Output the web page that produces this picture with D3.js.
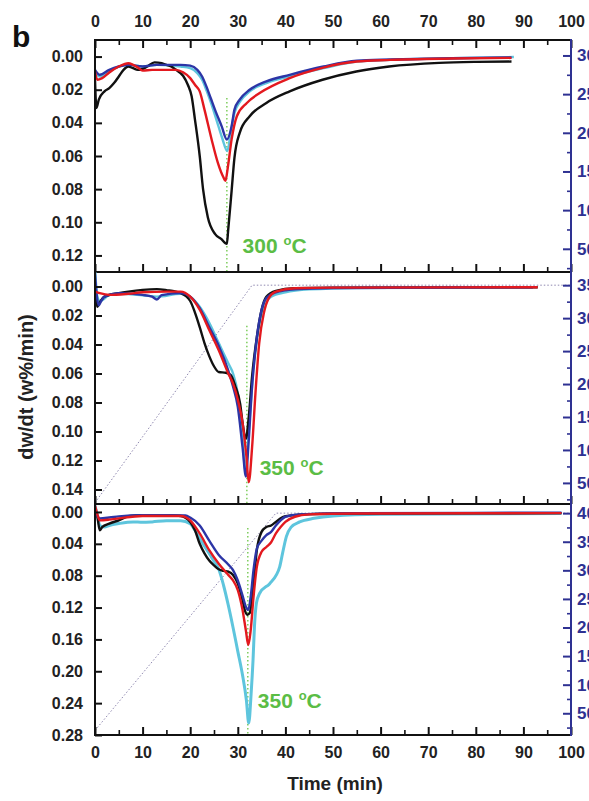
<!DOCTYPE html>
<html>
<head>
<meta charset="utf-8">
<script src="https://cdn.jsdelivr.net/npm/d3@7"></script>
<style>
body{margin:0;background:#fff}
svg{display:block}
text{font-family:"Liberation Sans",Arial,sans-serif;font-weight:bold}
</style>
</head>
<body>
<script>
// time axis
var timeTicks = [0,10,20,30,40,50,60,70,80,90,100];
var timeMinor = [5,15,25,35,45,55,65,75,85,95];

// dw/dt ticks for each panel
var p1Ticks = [0,0.02,0.04,0.06,0.08,0.10,0.12];
var p2Ticks = [0,0.02,0.04,0.06,0.08,0.10,0.12,0.14];
var p3Ticks = [0,0.04,0.08,0.12,0.16,0.20,0.24,0.28];

// temperature (right) ticks
var p1Temp = [50,100,150,200,250,300];
var p2Temp = [50,100,150,200,250,300,350];
var p3Temp = [50,100,150,200,250,300,350,400];

// panel 1 - 300 C
var p1Black = [[0,0.014],[0.3,0.031],[0.8,0.026],[2,0.021],[3,0.019],[4,0.016],[5,0.012],[6,0.008],[7,0.006],[8,0.007],[9,0.008],[10,0.0075],[11,0.006],[12.5,0.0035],[14,0.004],[15,0.005],[16,0.006],[17,0.008],[18.5,0.0116],[19.5,0.017],[20.3,0.024],[21,0.038],[22,0.060],[22.7,0.080],[23.7,0.097],[25.2,0.107],[26.5,0.110],[27.7,0.113],[28,0.104],[28.7,0.081],[29.3,0.061],[30.4,0.046],[32.5,0.036],[36,0.028],[40.9,0.021],[47.8,0.014],[54.9,0.009],[61.8,0.006],[72.3,0.0038],[80,0.0032],[87.5,0.003]];
var p1Red = [[0,0.009],[0.5,0.014],[1.5,0.013],[3,0.0096],[5,0.006],[7,0.004],[8,0.005],[9,0.0066],[10,0.0085],[12,0.008],[15,0.008],[17,0.008],[18.5,0.0095],[20,0.013],[21,0.017],[22,0.021],[23,0.032],[24.5,0.050],[25.8,0.064],[27,0.073],[27.4,0.075],[27.9,0.067],[28.7,0.050],[29.8,0.036],[31.9,0.028],[34.6,0.022],[40.9,0.013],[47.8,0.0068],[55,0.003],[62,0.002],[75,0.0012],[87.5,0.0008]];
var p1Blue = [[0,0.008],[1,0.011],[3,0.008],[5,0.006],[7,0.005],[10,0.006],[13,0.005],[18,0.005],[20,0.0055],[21.5,0.008],[22.5,0.012],[23.4,0.018],[24.3,0.025],[25.2,0.032],[26.6,0.042],[27.7,0.050],[28.7,0.042],[29.3,0.032],[30.4,0.026],[32.5,0.020],[36,0.015],[40.9,0.011],[48,0.006],[55,0.0025],[62,0.0018],[75,0.001],[87.5,0.0005]];
var p1Cyan = [[0,0.009],[1,0.012],[3,0.009],[5,0.006],[7,0.005],[10,0.006],[13,0.005],[18,0.006],[20,0.007],[21.5,0.010],[22.5,0.014],[23.5,0.021],[24.5,0.029],[25.5,0.038],[26.7,0.049],[27.8,0.057],[28.5,0.046],[29.3,0.034],[30.5,0.027],[32.5,0.021],[36,0.016],[41,0.012],[48,0.007],[55,0.003],[62,0.002],[75,0.001],[88,0.0003]];

// panel 2 - 350 C
var p2Black = [[0,0.001],[0.5,0.014],[1,0.011],[2,0.007],[5,0.0046],[7,0.0035],[10,0.0023],[13,0.0018],[15,0.0025],[18,0.0046],[20,0.010],[21,0.018],[22,0.028],[23,0.039],[24,0.048],[25,0.055],[26,0.059],[27.5,0.0595],[28.5,0.061],[29.5,0.069],[30.5,0.081],[31,0.094],[31.7,0.105],[32.3,0.090],[33,0.062],[34,0.035],[35,0.016],[36,0.007],[38,0.003],[42,0.0012],[50,0.0008],[93,0.0005]];
var p2Red = [[0,0.0035],[1,0.0046],[3,0.0058],[7,0.005],[10,0.004],[15,0.0035],[18,0.0035],[20,0.007],[22,0.016],[24,0.030],[26,0.044],[28,0.060],[29,0.067],[30,0.078],[31,0.094],[31.8,0.117],[32.3,0.135],[33,0.111],[33.7,0.074],[34.5,0.039],[35.5,0.018],[36.5,0.008],[38,0.0035],[42,0.0012],[50,0.0008],[93,0.0005]];
var p2Blue = [[0,-0.009],[0.3,0.004],[0.8,0.013],[1.3,0.010],[2,0.007],[5,0.0046],[10,0.0058],[12,0.007],[13,0.009],[14,0.006],[18,0.0046],[20,0.007],[22,0.015],[24,0.028],[26,0.041],[28,0.058],[29,0.069],[30,0.083],[31,0.111],[31.7,0.131],[32.2,0.111],[33,0.069],[34,0.035],[35,0.016],[36,0.008],[38,0.004],[42,0.002],[50,0.001],[92,0.0005]];
var p2Cyan = [[0,-0.012],[0.5,0.007],[1,0.010],[3,0.006],[5,0.005],[10,0.006],[13,0.007],[18,0.005],[20,0.007],[22,0.014],[24,0.025],[26,0.039],[28,0.053],[29,0.060],[30,0.074],[31,0.104],[31.6,0.127],[32.3,0.100],[33.2,0.060],[34.3,0.030],[35.5,0.014],[37,0.007],[40,0.004],[45,0.002],[55,0.001],[92,0.0006]];

// panel 3 - 350 C
var p3Black = [[0,-0.004],[0.5,0.006],[1,0.023],[1.5,0.019],[3,0.0146],[5,0.0105],[7,0.0054],[10,0.004],[15,0.004],[18,0.005],[20,0.0125],[21,0.023],[22,0.040],[23,0.052],[24,0.061],[25,0.067],[26,0.072],[27,0.074],[28,0.075],[29,0.079],[30,0.090],[31,0.111],[31.5,0.124],[32,0.129],[32.5,0.127],[33,0.107],[33.5,0.077],[34,0.048],[35,0.025],[36,0.019],[37,0.017],[38,0.0125],[39,0.008],[40,0.0054],[44,0.003],[55,0.002],[98,0.0015]];
var p3Red = [[0,-0.008],[0.5,0.003],[1,0.0105],[3,0.0096],[5,0.008],[10,0.005],[15,0.005],[18,0.005],[20,0.0105],[22,0.027],[24,0.048],[26,0.065],[28,0.079],[29,0.086],[30,0.098],[31,0.123],[31.7,0.149],[32.2,0.167],[32.7,0.149],[33.3,0.107],[34,0.069],[35,0.050],[36,0.044],[37,0.038],[38,0.027],[39,0.019],[40,0.0125],[42,0.006],[45,0.003],[55,0.002],[98,0.0015]];
var p3Blue = [[0,0],[1,0.008],[3,0.007],[5,0.0055],[10,0.004],[15,0.004],[19,0.0045],[20,0.007],[22,0.017],[24,0.036],[26,0.054],[28,0.066],[29,0.073],[30,0.086],[31,0.105],[31.7,0.119],[32.2,0.123],[32.7,0.107],[33.3,0.073],[34,0.046],[35,0.036],[36,0.029],[37,0.025],[38,0.017],[39,0.0105],[40,0.006],[43,0.003],[55,0.0015],[98,0.001]];
var p3Cyan = [[0,-0.008],[0.5,0.004],[1,0.017],[2,0.019],[3,0.017],[5,0.0146],[8,0.0125],[10,0.013],[12,0.0125],[15,0.011],[18,0.011],[20,0.0146],[21,0.023],[22,0.033],[23,0.043],[24,0.052],[25,0.062],[26,0.072],[27,0.092],[28,0.117],[29,0.145],[30,0.175],[31,0.205],[31.8,0.236],[32.3,0.265],[32.8,0.228],[33.2,0.186],[33.5,0.144],[33.9,0.115],[34.6,0.102],[36.7,0.090],[38.1,0.079],[38.8,0.069],[39.4,0.052],[40.2,0.031],[41.2,0.019],[43,0.0125],[46,0.008],[50,0.005],[60,0.003],[98,0.002]];

// temperature programmes (time, deg C)
var p2Ramp = [[0,20],[33,350],[100,350]];
var p3Ramp = [[0,20],[38,400],[100,400]];

// peak markers and labels
var markTime = [27.7, 31.9, 32.1];
var markTop = [0.025, 0.027, 0.020];
var tempLabels = ["300", "350", "350"];

var W = 589, H = 801;
var left = 95, right = 571;
var navy = "#2e3192";
var colors = {black:"#111111", red:"#e3191f", blue:"#2c35a6", cyan:"#5ec5dd"};

var svg = d3.select("body").append("svg").attr("width", W).attr("height", H);

var x = d3.scaleLinear().domain([0,100]).range([left,right]);

var panels = [
  {top:40, bottom:272, yd:[-0.01,0.13], td:[20,320], ticks:p1Ticks, temp:p1Temp, cyanW:2.4,
   series:[[p1Cyan,"cyan"],[p1Black,"black"],[p1Blue,"blue"],[p1Red,"red"]], ramp:null, lab:[31,0.1186]},
  {top:272, bottom:504, yd:[-0.01,0.15], td:[18,370], ticks:p2Ticks, temp:p2Temp, cyanW:2.4,
   series:[[p2Cyan,"cyan"],[p2Black,"black"],[p2Blue,"blue"],[p2Red,"red"]], ramp:p2Ramp, lab:[34.6,0.130]},
  {top:504, bottom:735, yd:[-0.01,0.28], td:[12,416], ticks:p3Ticks, temp:p3Temp, cyanW:3,
   series:[[p3Cyan,"cyan"],[p3Black,"black"],[p3Blue,"blue"],[p3Red,"red"]], ramp:p3Ramp, lab:[34.2,0.246]}
];

panels.forEach(function(p, i){
  // dw/dt grows downward, temperature upward
  var y = d3.scaleLinear().domain(p.yd).range([p.top, p.bottom]);
  var yt = d3.scaleLinear().domain(p.td).range([p.bottom, p.top]);
  var g = svg.append("g");

  g.append("clipPath").attr("id","clip"+i).append("rect")
    .attr("x", left).attr("y", p.top).attr("width", right-left).attr("height", p.bottom-p.top);
  var plot = g.append("g").attr("clip-path","url(#clip"+i+")");

  // temperature ramp
  if(p.ramp){
    plot.append("path").datum(p.ramp)
      .attr("fill","none").attr("stroke","#8f88b0").attr("stroke-width",1)
      .attr("stroke-dasharray","1.5,2")
      .attr("d", d3.line().x(function(d){return x(d[0]);}).y(function(d){return yt(d[1]);}));
  }

  // peak marker
  plot.append("line")
    .attr("x1", x(markTime[i])).attr("x2", x(markTime[i]))
    .attr("y1", y(markTop[i])).attr("y2", p.bottom)
    .attr("stroke","#7dcc5c").attr("stroke-width",1.5).attr("stroke-dasharray","1.5,2.5");

  var line = d3.line().curve(d3.curveMonotoneX)
    .x(function(d){return x(d[0]);}).y(function(d){return y(d[1]);});
  p.series.forEach(function(s){
    plot.append("path").datum(s[0])
      .attr("fill","none").attr("stroke",colors[s[1]])
      .attr("stroke-width", s[1] === "cyan" ? p.cyanW : 2.4).attr("stroke-linejoin","round")
      .attr("d", line);
  });

  // left axis
  var ax = g.append("g").attr("transform","translate("+left+",0)")
    .call(d3.axisLeft(y).tickValues(p.ticks).tickSizeInner(-7).tickSizeOuter(0).tickPadding(12).tickFormat(d3.format(".2f")));
  ax.select(".domain").remove();
  ax.selectAll("line").attr("stroke","#111").attr("stroke-width",2);
  ax.selectAll("text").attr("font-size",16).attr("fill","#222");

  // right axis (temperature)
  var minor = [25].concat(p.temp.map(function(d){return d+25;}))
    .filter(function(d){return d > p.td[0] && d < p.td[1];});
  var rm = g.append("g").attr("transform","translate("+right+",0)")
    .call(d3.axisRight(yt).tickValues(minor).tickSize(-4).tickFormat(""));
  rm.select(".domain").remove();
  rm.selectAll("line").attr("stroke",navy).attr("stroke-width",1.6);
  var ra = g.append("g").attr("transform","translate("+right+",0)")
    .call(d3.axisRight(yt).tickValues(p.temp).tickSizeInner(-8).tickSizeOuter(0).tickPadding(6).tickFormat(d3.format("d")));
  ra.select(".domain").remove();
  ra.selectAll("line").attr("stroke",navy).attr("stroke-width",2);
  ra.selectAll("text").attr("font-size",17).attr("fill",navy);

  // bottom ticks (inward)
  var bmin = g.append("g").attr("transform","translate(0,"+p.bottom+")")
    .call(d3.axisBottom(x).tickValues(timeMinor).tickSize(-5).tickFormat(""));
  bmin.select(".domain").remove();
  bmin.selectAll("line").attr("stroke","#111").attr("stroke-width",1.6);
  var bax = g.append("g").attr("transform","translate(0,"+p.bottom+")")
    .call(d3.axisBottom(x).tickValues(timeTicks).tickSizeInner(-8).tickSizeOuter(0).tickPadding(12)
      .tickFormat(i === 2 ? d3.format("d") : ""));
  bax.select(".domain").remove();
  bax.selectAll("line").attr("stroke","#111").attr("stroke-width",2);
  bax.selectAll("text").attr("font-size",16).attr("fill","#222");

  // frame line
  g.append("line").attr("x1",left-1).attr("x2",right).attr("y1",p.bottom).attr("y2",p.bottom)
    .attr("stroke","#111").attr("stroke-width",2);

  // temperature label with raised small degree mark
  var t = g.append("text").attr("x", x(p.lab[0])).attr("y", y(p.lab[1]))
    .attr("font-size",21).attr("fill","#5bbd45");
  t.append("tspan").text(tempLabels[i] + " ");
  t.append("tspan").attr("font-size",13).attr("dy",-8).text("o");
  t.append("tspan").attr("dy",8).text("C");
});

// top axis
var tmin = svg.append("g").attr("transform","translate(0,40)")
  .call(d3.axisTop(x).tickValues(timeMinor).tickSize(-5).tickFormat(""));
tmin.select(".domain").remove();
tmin.selectAll("line").attr("stroke","#111").attr("stroke-width",1.6);
var tax = svg.append("g").attr("transform","translate(0,40)")
  .call(d3.axisTop(x).tickValues(timeTicks).tickSizeInner(-8).tickSizeOuter(0).tickPadding(13).tickFormat(d3.format("d")));
tax.select(".domain").remove();
tax.selectAll("line").attr("stroke","#111").attr("stroke-width",2);
tax.selectAll("text").attr("font-size",16).attr("fill","#222");
svg.append("line").attr("x1",left-1).attr("x2",right).attr("y1",40).attr("y2",40)
  .attr("stroke","#111").attr("stroke-width",2);

// left and right spines
svg.append("line").attr("x1",left).attr("x2",left).attr("y1",39).attr("y2",736)
  .attr("stroke","#111").attr("stroke-width",2);
svg.append("line").attr("x1",right).attr("x2",right).attr("y1",39).attr("y2",736)
  .attr("stroke",navy).attr("stroke-width",2);

// titles
svg.append("text").attr("x",12).attr("y",47).attr("font-size",30).attr("fill","#111").text("b");
svg.append("text").attr("transform","translate(33,387) rotate(-90)")
  .attr("text-anchor","middle").attr("font-size",20).attr("fill","#222").text("dw/dt (w%/min)");
svg.append("text").attr("x",335).attr("y",790).attr("text-anchor","middle")
  .attr("font-size",19).attr("fill","#222").text("Time (min)");
</script>
</body>
</html>
